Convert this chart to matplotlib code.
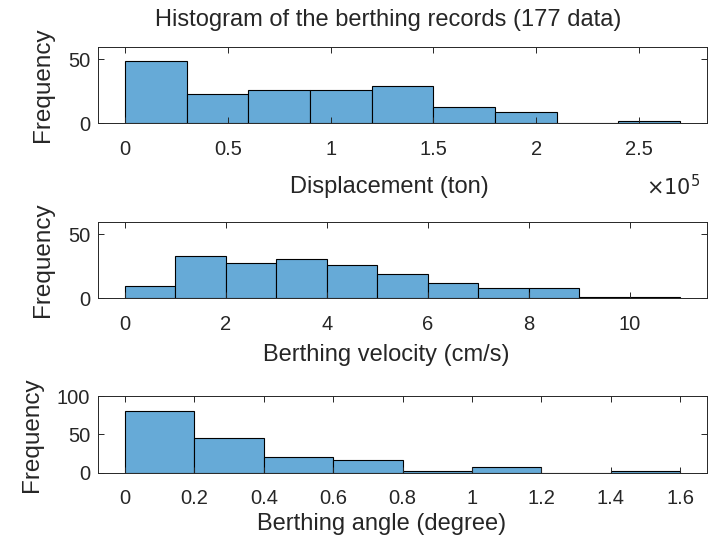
import numpy as np
import matplotlib
matplotlib.use('Agg')
import matplotlib.pyplot as plt
from matplotlib.ticker import FuncFormatter

plt.rcParams['font.family'] = ['Liberation Sans', 'DejaVu Sans']

# bin edges and counts
disp_edges = np.arange(0, 2.7e5 + 1, 0.3e5)
disp_counts = [49, 23, 26, 26, 29, 13, 9, 0, 2]

vel_edges = np.arange(0, 12, 1)
vel_counts = [10, 33, 28, 31, 26, 19, 12, 8, 8, 1, 1]

ang_edges = np.round(np.arange(0, 1.7, 0.2), 1)
ang_counts = [80, 45, 21, 16, 2, 7, 0, 2]

xlabels = ['Displacement (ton)', 'Berthing velocity (cm/s)', 'Berthing angle (degree)']
xticks = [np.arange(0, 2.6e5, 0.5e5), np.arange(0, 11, 2), np.round(np.arange(0, 1.7, 0.2), 1)]
ymax = [60, 60, 100]
yticks = [[0, 50], [0, 50], [0, 50, 100]]

bar_color = '#66aad7'
txt = '#262626'

fig = plt.figure(figsize=(7.1, 5.5), dpi=100)
bottoms = [0.7758, 0.4576, 0.1405]
xlabel_x = [0.479, 0.474, 0.466]     # label centres as in the reference
xlabel_y = [-0.83, -0.745, -0.665]

data = [(disp_edges, disp_counts), (vel_edges, vel_counts), (ang_edges, ang_counts)]
for i, (edges, counts) in enumerate(data):
    ax = fig.add_axes([0.1385, bottoms[i], 0.857, 0.1393])
    w = edges[1] - edges[0]
    ax.bar(edges[:-1], counts, width=w, align='edge', color=bar_color,
           edgecolor='black', linewidth=0.8)
    rng = edges[-1] - edges[0]
    ax.set_xlim(edges[0] - 0.048 * rng, edges[-1] + 0.048 * rng)
    ax.set_ylim(0, ymax[i])
    ax.set_xticks(xticks[i])
    ax.set_yticks(yticks[i])
    if i == 0:
        ax.xaxis.set_major_formatter(FuncFormatter(lambda v, p: '%g' % (v / 1e5)))
        ax.text(0.989, -0.82, r'$\times10^5$', transform=ax.transAxes, ha='right',
                va='center', fontsize=15, color=txt)
    else:
        ax.xaxis.set_major_formatter(FuncFormatter(lambda v, p: '%g' % v))
    ax.tick_params(direction='in', top=True, right=True, length=4, width=0.7,
                   labelsize=14.5, colors=txt, pad=12)
    ax.tick_params(axis='y', pad=6)
    for s in ax.spines.values():
        s.set_color(txt)
        s.set_linewidth(0.7)
    ax.set_xlabel(xlabels[i], fontsize=17, color=txt)
    ax.xaxis.set_label_coords(xlabel_x[i], xlabel_y[i])
    ax.xaxis.label.set_va('center')
    ax.set_ylabel('Frequency', fontsize=17.5, color=txt, labelpad=10)
    if i == 0:
        ax.set_title('Histogram of the berthing records (177 data)', fontsize=17,
                     color=txt, pad=15, x=0.476)

fig.savefig('out.png', dpi=100)
